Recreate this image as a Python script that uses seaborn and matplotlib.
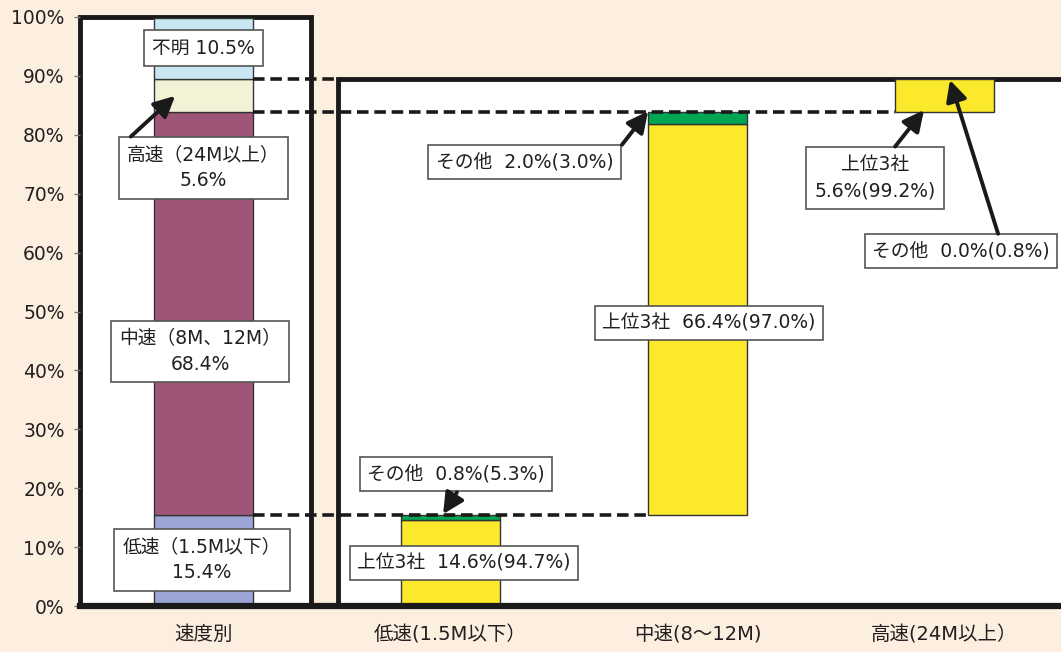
import matplotlib
matplotlib.use("Agg")
import matplotlib.pyplot as plt
import seaborn as sns
from matplotlib.patches import Rectangle

# ---------------- data ----------------
categories = ["速度別", "低速(1.5M以下）", "中速(8～12M)", "高速(24M以上）"]

# left stacked bar (速度別)
share_labels = ["低速", "中速", "高速", "不明"]
share_values = [15.4, 68.4, 5.6, 10.5]
share_colors = ["#9BA6D6", "#9E5577", "#F3F2D6", "#C9E7F3"]

# waterfall bars by speed class
top3_values = [14.6, 66.4, 5.6]
other_values = [0.8, 2.0, 0.0]

yticks = [0, 10, 20, 30, 40, 50, 60, 70, 80, 90, 100]
ytick_labels = ["0%", "10%", "20%", "30%", "40%", "50%", "60%", "70%", "80%", "90%", "100%"]

box_texts = {
    "unknown": "不明 10.5%",
    "high": "高速（24M以上）\n5.6%",
    "mid": "中速（8M、12M）\n68.4%",
    "low": "低速（1.5M以下）\n15.4%",
    "low_other": "その他  0.8%(5.3%)",
    "low_top": "上位3社  14.6%(94.7%)",
    "mid_other": "その他  2.0%(3.0%)",
    "mid_top": "上位3社  66.4%(97.0%)",
    "high_top": "上位3社\n5.6%(99.2%)",
    "high_other": "その他  0.0%(0.8%)",
}

# ---------------- style ----------------
sns.set_theme(style="white")
plt.rcParams["font.family"] = ["DejaVu Sans", "Noto Sans CJK JP"]

BG = "#FDEFE0"
YELLOW = "#FCE92B"
GREEN = "#00A651"
EDGE = "#333333"
TXT = "#231f20"

fig = plt.figure(figsize=(10.61, 6.52), dpi=100, facecolor=BG)
ax = fig.add_axes([80 / 1061, 46 / 652, 988 / 1061, 589 / 652])
ax.set_facecolor("none")

W = 0.4

# boxes (panels)
ax.add_patch(Rectangle((-0.5, 0), 0.435 + 0.5, 100, facecolor="white",
                       edgecolor="#1a1a1a", lw=3.5, zorder=0.5, clip_on=False))
ax.add_patch(Rectangle((0.545, 0), 3.2, 89.4, facecolor="white",
                       edgecolor="#1a1a1a", lw=3.5, zorder=0.5, clip_on=False))

# left stacked bar
bottom = 0.0
for lab, val, col in zip(share_labels, share_values, share_colors):
    sns.barplot(x=[categories[0]], y=[val], order=categories, bottom=bottom,
                color=col, width=W, edgecolor=EDGE, linewidth=1.0,
                saturation=1, errorbar=None, ax=ax, zorder=2)
    bottom += val

# waterfall bars
base = 0.0
for i, (t, o, s) in enumerate(zip(top3_values, other_values, share_values[:3])):
    cat = categories[i + 1]
    sns.barplot(x=[cat], y=[t], order=categories, bottom=base, color=YELLOW,
                width=W, edgecolor=EDGE, linewidth=1.0, saturation=1,
                errorbar=None, ax=ax, zorder=2)
    if o > 0:
        sns.barplot(x=[cat], y=[o], order=categories, bottom=base + t, color=GREEN,
                    width=W, edgecolor=EDGE, linewidth=1.0, saturation=1,
                    errorbar=None, ax=ax, zorder=2)
    base += s

# dashed connectors
c1 = share_values[0]
c2 = share_values[0] + share_values[1]
c3 = c2 + share_values[2]
dash = dict(colors="#1a1a1a", linestyles=(0, (3.2, 1.6)), linewidth=2.6, zorder=3)
ax.hlines(c1, W / 2, 2 - W / 2, **dash)
ax.hlines(c2, W / 2, 3 - W / 2, **dash)
ax.hlines(c3, W / 2, 0.545, **dash)

# axes cosmetics
ax.set_xlim(-0.5, 3.5)
ax.set_ylim(0, 100)
for s in ["left", "right", "top"]:
    ax.spines[s].set_visible(False)
ax.spines["bottom"].set_linewidth(4.5)
ax.spines["bottom"].set_color("#1a1a1a")
ax.spines["bottom"].set_zorder(4)
ax.set_yticks(yticks)
ax.set_yticklabels(ytick_labels, fontsize=13.5, color=TXT)
ax.set_xticks(range(len(categories)))
ax.set_xticklabels(categories, fontsize=14, color=TXT)
ax.set_xticks([0.5, 1.5, 2.5], minor=True)
ax.tick_params(axis="x", which="major", length=0, pad=14)
ax.tick_params(axis="x", which="minor", direction="in", length=5, width=1, color="#777777")
ax.tick_params(axis="y", which="major", direction="out", length=4, width=1,
               color="#777777", pad=7, left=True)
ax.set_xlabel("")
ax.set_ylabel("")

# text boxes
def tbox(x, y, s, padx=0.5):
    ax.text(x, y, s, ha="center", va="center", fontsize=13.5, color=TXT,
            linespacing=1.45, zorder=6,
            bbox=dict(boxstyle=f"square,pad={padx}", facecolor="white",
                      edgecolor="#555555", linewidth=1.2))

def arrow(tail, head):
    ax.annotate("", xy=head, xytext=tail, zorder=7,
                arrowprops=dict(arrowstyle="-|>,head_length=0.9,head_width=0.45",
                                color="#1a1a1a", lw=2.8, shrinkA=0, shrinkB=0,
                                mutation_scale=14))

tbox(0.0, 94.7, box_texts["unknown"], padx=0.45)
tbox(0.0, 74.4, box_texts["high"], padx=0.45)
tbox(-0.014, 43.2, box_texts["mid"], padx=0.45)
tbox(-0.006, 7.8, box_texts["low"], padx=0.45)
tbox(1.022, 22.4, box_texts["low_other"], padx=0.4)
tbox(1.055, 7.3, box_texts["low_top"], padx=0.4)
tbox(1.30, 75.4, box_texts["mid_other"], padx=0.4)
tbox(2.047, 48.1, box_texts["mid_top"], padx=0.4)
tbox(2.719, 72.7, box_texts["high_top"], padx=0.45)
tbox(3.067, 60.2, box_texts["high_other"], padx=0.4)

arrow((-0.294, 79.7), (-0.115, 86.6))
arrow((1.026, 19.3), (0.97, 15.6))
arrow((1.694, 78.3), (1.80, 84.0))
arrow((2.80, 78.0), (2.917, 84.2))
arrow((3.217, 63.2), (3.022, 89.3))

fig.savefig("out.png", dpi=100, facecolor=BG)
